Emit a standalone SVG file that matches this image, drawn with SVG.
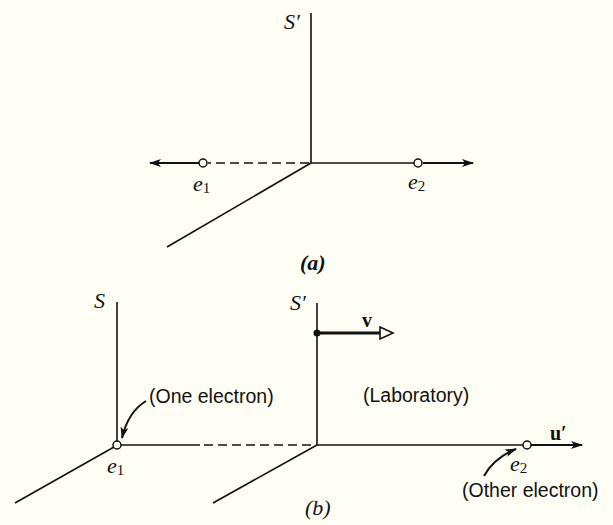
<svg xmlns="http://www.w3.org/2000/svg" width="613" height="525" viewBox="0 0 613 525">
<defs>
<marker id="ah" viewBox="0 0 12 8" refX="11" refY="4" markerWidth="12" markerHeight="8" markerUnits="userSpaceOnUse" orient="auto">
<path d="M0,0 L12,4 L0,8 L3,4 Z" fill="#111"/>
</marker>
<style>
.ax{stroke:#111;stroke-width:1.6;fill:none}
.dash{stroke:#111;stroke-width:1.6;fill:none;stroke-dasharray:9 5}
.arr{stroke:#111;stroke-width:2;fill:none}
.el{fill:#fffef4;stroke:#111;stroke-width:1.5}
.it{font-family:"Liberation Serif",serif;font-style:italic;font-size:22px;fill:#111}
.sub{font-family:"Liberation Serif",serif;font-size:15px;fill:#111}
.bd{font-family:"Liberation Serif",serif;font-weight:bold;font-size:20px;fill:#111}
.sans{font-family:"Liberation Sans",Arial,sans-serif;font-size:19.5px;fill:#111}
</style>
</defs>
<rect width="613" height="525" fill="#fffef4"/>
<g id="connectors">
<!-- part a -->
<line class="ax" x1="311" y1="13" x2="311" y2="163"/>
<line class="ax" x1="311" y1="163" x2="167" y2="247"/>
<line class="dash" x1="309" y1="163" x2="208" y2="163"/>
<line class="ax" x1="311" y1="163" x2="414" y2="163"/>
<line class="arr" x1="199" y1="163" x2="150" y2="163" marker-end="url(#ah)"/>
<line class="arr" x1="423" y1="163" x2="473" y2="163" marker-end="url(#ah)"/>
<!-- part b -->
<line class="ax" x1="117" y1="302" x2="117" y2="441"/>
<line class="ax" x1="114" y1="447" x2="15" y2="503"/>
<line class="ax" x1="121" y1="445" x2="200" y2="445"/>
<line class="dash" x1="204" y1="445" x2="315" y2="445"/>
<line class="ax" x1="317" y1="303" x2="317" y2="445"/>
<line class="ax" x1="317" y1="445" x2="213" y2="503"/>
<line class="ax" x1="317" y1="445" x2="523" y2="445"/>
<line class="arr" x1="531" y1="445" x2="582" y2="445" marker-end="url(#ah)"/>
<line x1="317" y1="333" x2="380" y2="333" stroke="#111" stroke-width="3"/>
<path d="M380,327 L393,333 L380,339 Z" fill="#fffef4" stroke="#111" stroke-width="1.6"/>
<path d="M146,401 Q128,412 122,438" class="arr" marker-end="url(#ah)"/>
<path d="M484,476 Q494,458 516,449" class="arr" marker-end="url(#ah)"/>
</g>
<g id="node-e1a"><circle class="el" cx="203" cy="163" r="4"/><text class="it" x="193" y="191">e<tspan class="sub" font-style="normal" dy="2">1</tspan></text></g>
<g id="node-e2a"><circle class="el" cx="418" cy="163" r="4"/><text class="it" x="408" y="189">e<tspan class="sub" font-style="normal" dy="2">2</tspan></text></g>
<g id="label-Sa"><text class="it" x="284" y="29">S′</text></g>
<g id="label-a"><text class="it" x="300" y="270" font-weight="bold" font-size="19">(a)</text></g>
<g id="label-S"><text class="it" x="94" y="308">S</text></g>
<g id="label-Sb"><text class="it" x="290" y="310">S′</text></g>
<g id="node-v"><circle cx="317" cy="333" r="3.5" fill="#111"/><text class="bd" x="362" y="327">v</text></g>
<g id="node-e1b"><circle class="el" cx="117" cy="445" r="4"/><text class="it" x="107" y="473">e<tspan class="sub" font-style="normal" dy="2">1</tspan></text><text class="sans" x="149" y="403">(One electron)</text></g>
<g id="node-e2b"><circle class="el" cx="527" cy="445" r="4"/><text class="it" x="510" y="471">e<tspan class="sub" font-style="normal" dy="2">2</tspan></text><text class="sans" x="462" y="497">(Other electron)</text><text class="bd" x="550" y="440" font-size="22">u′</text></g>
<g id="label-lab"><text class="sans" x="363" y="402">(Laboratory)</text></g>
<g id="label-b"><text class="it" x="305" y="515" font-size="20">(b)</text></g>
</svg>
